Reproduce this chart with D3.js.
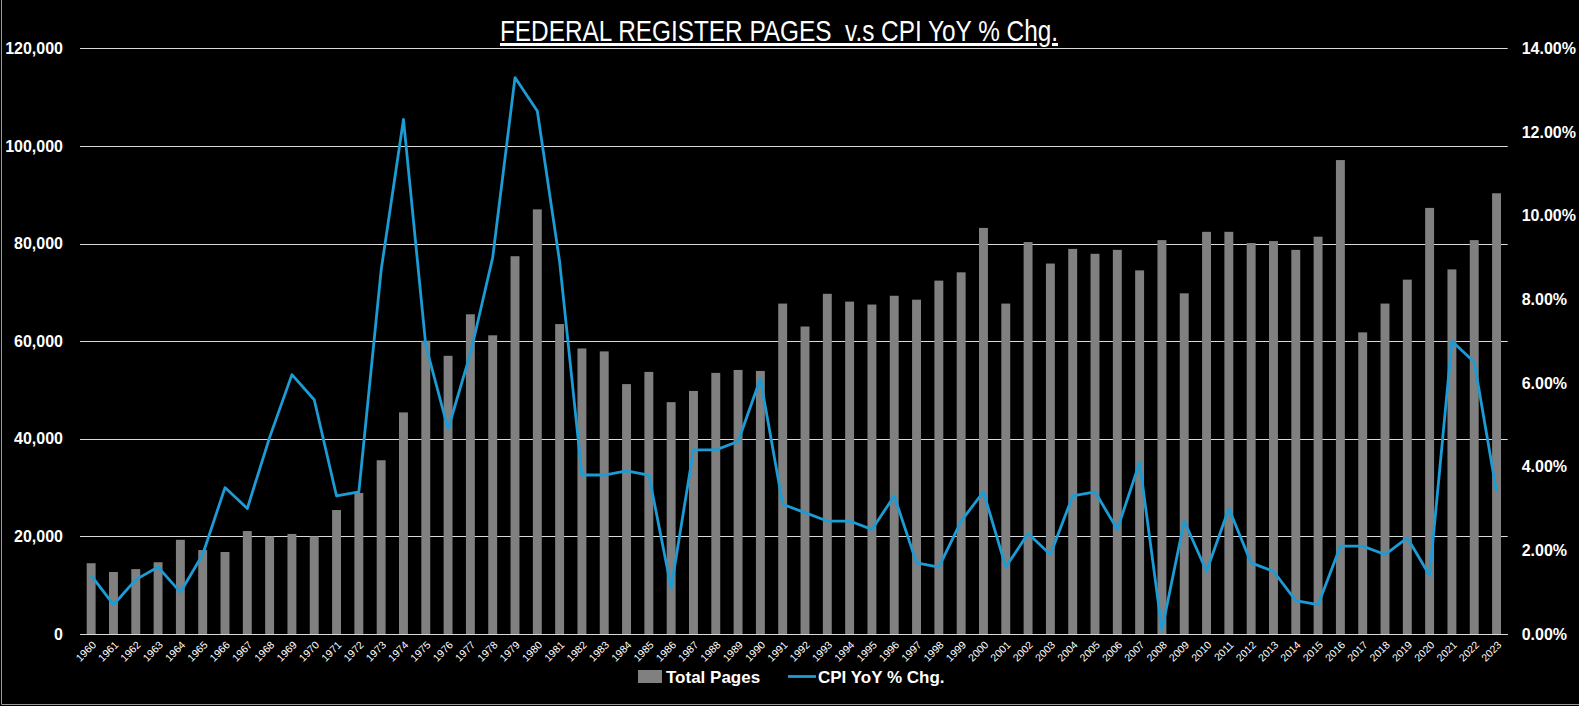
<!DOCTYPE html>
<html>
<head>
<meta charset="utf-8">
<script src="https://cdn.jsdelivr.net/npm/d3@7"></script>
<style>
  html, body { margin: 0; padding: 0; background: #000; }
  svg { display: block; }
</style>
</head>
<body>
<div id="chart"></div>
<script>
// data
var years = d3.range(1960, 2024).map(String)

var totalPages = [
  14500, 12700, 13300, 14700, 19300, 17200, 16800, 21100, 20000, 20500,
  20000, 25400, 28900, 35600, 45400, 60100, 57000, 65500, 61200, 77400,
  87000, 63500, 58500, 57900, 51200, 53700, 47500, 49800, 53500, 54100,
  53900, 67700, 63000, 69700, 68100, 67500, 69300, 68500, 72400, 74100,
  83200, 67700, 80300, 75900, 78900, 77900, 78700, 74500, 80700, 69800,
  82400, 82400, 80100, 80500, 78700, 81400, 97100, 61800, 67700, 72600,
  87300, 74700, 80700, 90300
]

var cpiYoY = [
  1.4, 0.7, 1.3, 1.6, 1.0, 1.9, 3.5, 3.0, 4.7, 6.2,
  5.6, 3.3, 3.4, 8.7, 12.3, 6.9, 4.9, 6.7, 9.0, 13.3,
  12.5, 8.9, 3.8, 3.8, 3.9, 3.8, 1.1, 4.4, 4.4, 4.6,
  6.1, 3.1, 2.9, 2.7, 2.7, 2.5, 3.3, 1.7, 1.6, 2.7,
  3.4, 1.6, 2.4, 1.9, 3.3, 3.4, 2.5, 4.1, 0.1, 2.7,
  1.5, 3.0, 1.7, 1.5, 0.8, 0.7, 2.1, 2.1, 1.9, 2.3,
  1.4, 7.0, 6.5, 3.4
]

var leftTicks = [0, 20000, 40000, 60000, 80000, 100000, 120000]
var rightTicks = [0, 2, 4, 6, 8, 10, 12, 14]

var W = 1579, H = 706
var plotL = 80, plotR = 1507.7, plotT = 48.3, plotB = 634

var svg = d3.select("#chart")
  .append("svg")
  .attr('width', W)
  .attr('height', H)

svg.append('rect')
  .attr('width', W)
  .attr('height', H)
  .attr('fill', '#000')

// faint chart border (left + bottom)
svg.append('line')
  .attr('x1', 1.5).attr('x2', 1.5)
  .attr('y1', 0).attr('y2', 704.5)
  .attr('stroke', '#9a9a9a').attr('stroke-width', 1)
svg.append('line')
  .attr('x1', 1.5).attr('x2', W)
  .attr('y1', 704.5).attr('y2', 704.5)
  .attr('stroke', '#9a9a9a').attr('stroke-width', 1)

var x = d3.scaleBand()
  .domain(years)
  .range([plotL, plotR])
  .paddingInner(0.6)
  .paddingOuter(0.3)

var yL = d3.scaleLinear().domain([0, 120000]).range([plotB, plotT])
var yR = d3.scaleLinear().domain([0, 14]).range([plotB, plotT])

// gridlines
svg.append('g')
  .selectAll('line')
  .data(leftTicks)
  .join('line')
  .attr('x1', plotL)
  .attr('x2', plotR)
  .attr('y1', d => Math.round(yL(d)) + 0.5)
  .attr('y2', d => Math.round(yL(d)) + 0.5)
  .attr('stroke', '#d9d9d9')
  .attr('stroke-width', 1)

// left axis
var axisL = svg.append('g')
  .attr('transform', 'translate(' + (plotL - 17) + ',0)')
  .call(d3.axisLeft(yL).tickValues(leftTicks).tickSize(0).tickPadding(0)
    .tickFormat(d3.format(',')))
axisL.select('.domain').remove()
axisL.selectAll('text')
  .attr('fill', '#fff')
  .attr('font-family', 'Liberation Sans, Arial, sans-serif')
  .attr('font-weight', 'bold')
  .attr('font-size', 16)

// right axis
var axisR = svg.append('g')
  .attr('transform', 'translate(' + (plotR + 14) + ',0)')
  .call(d3.axisRight(yR).tickValues(rightTicks).tickSize(0).tickPadding(0)
    .tickFormat(d => d.toFixed(2) + '%'))
axisR.select('.domain').remove()
axisR.selectAll('text')
  .attr('fill', '#fff')
  .attr('font-family', 'Liberation Sans, Arial, sans-serif')
  .attr('font-weight', 'bold')
  .attr('font-size', 16)

// bars
svg.append('g')
  .selectAll('rect')
  .data(totalPages)
  .join('rect')
  .attr('x', (d, i) => x(years[i]))
  .attr('width', x.bandwidth())
  .attr('y', d => yL(d))
  .attr('height', d => plotB - yL(d))
  .attr('fill', '#808080')

// redraw baseline on top of bars
svg.append('line')
  .attr('x1', plotL).attr('x2', plotR)
  .attr('y1', plotB + 0.5).attr('y2', plotB + 0.5)
  .attr('stroke', '#d9d9d9')

// cpi line
var line = d3.line()
  .x((d, i) => x(years[i]) + x.bandwidth() / 2)
  .y(d => yR(d))

svg.append('path')
  .datum(cpiYoY)
  .attr('d', line)
  .attr('fill', 'none')
  .attr('stroke', '#1c9bd4')
  .attr('stroke-width', 2.8)
  .attr('stroke-linejoin', 'round')

// x labels, rotated
svg.append('g')
  .selectAll('text')
  .data(years)
  .join('text')
  .attr('transform', d => 'translate(' + (x(d) + x.bandwidth() / 2 + 3) + ',' + (plotB + 9) + ') rotate(-45)')
  .attr('text-anchor', 'end')
  .attr('dy', '0.35em')
  .attr('fill', '#fff')
  .attr('font-family', 'Liberation Sans, Arial, sans-serif')
  .attr('font-size', 10.5)
  .text(d => d)

// title (narrow face squeezed to the reference width)
svg.append('text')
  .attr('x', 779)
  .attr('y', 41)
  .attr('text-anchor', 'middle')
  .attr('fill', '#fff')
  .attr('font-family', 'Liberation Sans Narrow, Arial Narrow, Liberation Sans, sans-serif')
  .attr('font-size', 30)
  .attr('textLength', 558)
  .attr('lengthAdjust', 'spacingAndGlyphs')
  .attr('text-decoration', 'underline')
  .style('white-space', 'pre')
  .text('FEDERAL REGISTER PAGES  v.s CPI YoY % Chg.')

// legend
var lg = svg.append('g')
  .attr('font-family', 'Liberation Sans, Arial, sans-serif')
  .attr('font-weight', 'bold')
  .attr('font-size', 17)
  .attr('fill', '#fff')

lg.append('rect')
  .attr('x', 638).attr('y', 670)
  .attr('width', 24).attr('height', 13)
  .attr('fill', '#808080')
lg.append('text')
  .attr('x', 666).attr('y', 682.5)
  .text('Total Pages')

lg.append('line')
  .attr('x1', 788).attr('x2', 816)
  .attr('y1', 676.5).attr('y2', 676.5)
  .attr('stroke', '#1c9bd4')
  .attr('stroke-width', 2.8)
lg.append('text')
  .attr('x', 818).attr('y', 682.5)
  .text('CPI YoY % Chg.')
</script>
</body>
</html>
